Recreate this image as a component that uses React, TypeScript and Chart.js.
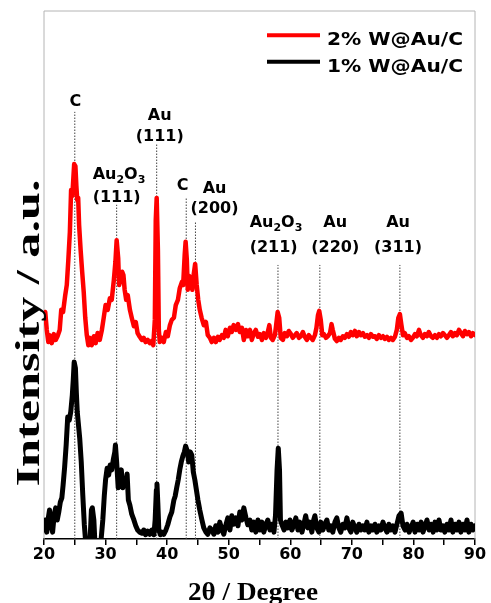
import { useEffect, useRef } from 'react';
import { Chart, registerables } from 'chart.js';

Chart.register(...registerables);

// ---- data (2θ in degrees, intensity in arbitrary units, offset as plotted) ----
const redTheta = [
  20.0, 20.2, 20.45, 20.7, 20.9, 21.25, 21.6, 21.9, 22.2, 22.55,
  22.8, 23.1, 23.45, 23.7, 23.95, 24.2, 24.4, 24.6, 24.75, 24.9,
  25.1, 25.25, 25.4, 25.55, 25.7, 25.95, 26.2, 26.45, 26.7, 26.95,
  27.2, 27.45, 27.75, 28.1, 28.4, 28.7, 29.05, 29.4, 29.7, 30.0,
  30.35, 30.7, 31.0, 31.35, 31.6, 31.8, 32.05, 32.2, 32.45, 32.7,
  32.9, 33.1, 33.35, 33.6, 33.95, 34.25, 34.6, 34.9, 35.2, 35.55,
  35.9, 36.2, 36.5, 36.85, 37.2, 37.5, 37.75, 38.0, 38.15, 38.3,
  38.5, 38.65, 38.8, 39.15, 39.45, 39.8, 40.1, 40.45, 40.75, 41.1,
  41.4, 41.75, 42.05, 42.4, 42.6, 42.85, 43.0, 43.2, 43.35, 43.6,
  43.85, 44.1, 44.3, 44.55, 44.8, 45.05, 45.3, 45.6, 45.95, 46.3,
  46.6, 46.95, 47.25, 47.6, 47.9, 48.25, 48.55, 48.9, 49.2, 49.5,
  49.85, 50.2, 50.5, 50.8, 51.15, 51.5, 51.8, 52.15, 52.45, 52.8,
  53.1, 53.45, 53.75, 54.1, 54.4, 54.75, 55.05, 55.4, 55.7, 56.05,
  56.35, 56.6, 56.85, 57.15, 57.5, 57.7, 57.95, 58.2, 58.45, 58.8,
  59.1, 59.45, 59.75, 60.1, 60.4, 60.75, 61.05, 61.4, 61.7, 62.05,
  62.35, 62.7, 63.0, 63.35, 63.65, 64.0, 64.25, 64.5, 64.7, 64.95,
  65.2, 65.45, 65.8, 66.1, 66.45, 66.7, 66.9, 67.25, 67.55, 67.9,
  68.2, 68.55, 68.85, 69.2, 69.5, 69.85, 70.15, 70.5, 70.8, 71.15,
  71.45, 71.8, 72.1, 72.45, 72.75, 73.1, 73.4, 73.75, 74.05, 74.4,
  74.7, 75.05, 75.35, 75.7, 76.0, 76.35, 76.65, 77.0, 77.3, 77.55,
  77.8, 78.05, 78.3, 78.6, 78.95, 79.25, 79.6, 79.9, 80.25, 80.55,
  80.9, 81.2, 81.55, 81.85, 82.2, 82.5, 82.85, 83.15, 83.5, 83.8,
  84.15, 84.45, 84.8, 85.1, 85.45, 85.75, 86.1, 86.4, 86.75, 87.05,
  87.4, 87.7, 88.05, 88.35, 88.7, 89.0, 89.35, 89.65, 90.0,
];

const redIntensity = [
  41.9, 43.0, 39.6, 37.3, 38.6, 37.1, 38.8, 37.7, 38.4, 39.6,
  43.4, 43.0, 46.2, 48.1, 52.8, 58.1, 66.1, 65.0, 68.0, 71.0,
  70.6, 67.0, 64.2, 64.6, 59.5, 54.7, 50.6, 46.8, 41.9, 38.6,
  36.7, 38.1, 36.7, 38.4, 37.1, 39.0, 37.7, 39.6, 41.9, 44.3,
  43.4, 45.6, 45.3, 49.1, 52.5, 56.6, 53.2, 48.1, 49.1, 50.6,
  50.0, 47.2, 45.3, 46.2, 43.4, 41.9, 40.3, 41.1, 39.0, 38.3,
  37.7, 38.1, 37.3, 37.7, 37.1, 37.5, 36.7, 41.5, 60.4, 64.6,
  54.7, 39.6, 37.3, 38.1, 37.3, 39.2, 38.4, 40.5, 41.5, 41.9,
  44.3, 45.3, 47.5, 48.7, 48.1, 53.8, 56.3, 52.8, 47.2, 49.8,
  49.1, 47.2, 50.0, 52.1, 48.1, 45.3, 43.4, 41.9, 40.5, 41.1,
  38.6, 38.1, 37.3, 38.1, 37.3, 38.3, 37.7, 38.6, 38.1, 39.6,
  38.4, 40.0, 39.2, 40.5, 39.6, 40.7, 39.2, 40.0, 37.7, 39.6,
  38.4, 39.6, 37.7, 39.0, 39.6, 38.3, 38.8, 37.7, 39.0, 38.1,
  39.2, 40.5, 38.1, 37.7, 38.6, 40.5, 43.0, 41.9, 38.1, 37.7,
  39.0, 38.4, 39.4, 38.8, 38.1, 38.6, 39.0, 38.1, 38.4, 39.2,
  38.3, 37.7, 38.6, 38.1, 37.7, 38.6, 40.0, 42.4, 43.2, 41.5,
  38.6, 38.8, 38.1, 38.4, 39.0, 40.7, 39.6, 37.9, 37.5, 38.1,
  37.7, 38.4, 38.1, 38.8, 38.3, 39.2, 38.6, 39.4, 38.4, 39.2,
  38.6, 39.0, 38.3, 38.6, 38.1, 38.8, 38.3, 38.4, 37.9, 38.6,
  38.1, 38.4, 37.9, 38.3, 37.7, 38.1, 37.7, 38.3, 39.6, 41.9,
  42.6, 40.5, 38.6, 39.0, 38.1, 38.4, 37.7, 38.1, 38.8, 38.4,
  39.6, 38.6, 38.1, 38.8, 38.4, 39.2, 38.4, 38.1, 38.6, 38.1,
  38.8, 38.4, 39.0, 38.6, 38.1, 38.6, 39.2, 38.4, 39.0, 38.6,
  39.6, 39.0, 38.4, 39.4, 38.8, 39.2, 38.4, 39.0, 38.6,
];

const blackTheta = [
  20.0, 20.2, 20.45, 20.7, 20.9, 21.15, 21.4, 21.65, 21.9, 22.15,
  22.4, 22.65, 22.9, 23.1, 23.35, 23.6, 23.85, 24.1, 24.35, 24.6,
  24.75, 24.9, 25.1, 25.25, 25.4, 25.55, 25.8, 26.05, 26.3, 26.55,
  26.8, 27.1, 27.45, 27.7, 27.85, 28.1, 28.25, 28.5, 28.9, 29.2,
  29.55, 29.8, 30.0, 30.25, 30.5, 30.75, 31.0, 31.25, 31.5, 31.6,
  31.8, 32.05, 32.3, 32.55, 32.8, 33.05, 33.3, 33.5, 33.7, 33.95,
  34.25, 34.6, 34.9, 35.2, 35.55, 35.9, 36.2, 36.5, 36.85, 37.2,
  37.5, 37.85, 38.05, 38.25, 38.35, 38.5, 38.65, 38.9, 39.15, 39.45,
  39.8, 40.1, 40.45, 40.75, 41.1, 41.3, 41.55, 41.8, 42.05, 42.3,
  42.55, 42.8, 43.0, 43.3, 43.5, 43.75, 44.0, 44.25, 44.5, 44.75,
  45.0, 45.3, 45.65, 45.95, 46.3, 46.6, 46.95, 47.25, 47.6, 47.9,
  48.25, 48.55, 48.9, 49.2, 49.5, 49.85, 50.2, 50.5, 50.8, 51.15,
  51.5, 51.8, 52.15, 52.45, 52.8, 53.1, 53.45, 53.75, 54.1, 54.4,
  54.75, 55.05, 55.4, 55.7, 56.05, 56.35, 56.7, 57.0, 57.35, 57.6,
  57.85, 58.05, 58.25, 58.4, 58.65, 59.0, 59.3, 59.6, 59.95, 60.25,
  60.6, 60.9, 61.25, 61.55, 61.9, 62.2, 62.5, 62.85, 63.15, 63.5,
  63.8, 64.0, 64.3, 64.65, 64.95, 65.3, 65.6, 65.95, 66.25, 66.6,
  66.9, 67.25, 67.55, 67.9, 68.2, 68.55, 68.85, 69.2, 69.5, 69.85,
  70.15, 70.5, 70.8, 71.15, 71.45, 71.8, 72.1, 72.45, 72.75, 73.1,
  73.4, 73.75, 74.05, 74.4, 74.7, 75.05, 75.35, 75.7, 76.0, 76.35,
  76.65, 77.0, 77.3, 77.65, 78.0, 78.3, 78.65, 78.95, 79.3, 79.6,
  79.95, 80.25, 80.6, 80.9, 81.25, 81.55, 81.9, 82.2, 82.55, 82.85,
  83.2, 83.5, 83.8, 84.15, 84.45, 84.8, 85.1, 85.45, 85.75, 86.1,
  86.4, 86.75, 87.05, 87.4, 87.7, 88.05, 88.35, 88.7, 89.0, 89.35,
  89.65, 90.0,
];

const blackIntensity = [
  1.7, 3.6, 1.3, 4.0, 5.5, 2.7, 1.3, 4.5, 5.9, 3.6,
  5.1, 7.0, 7.8, 10.2, 13.6, 17.8, 23.1, 22.5, 24.1, 27.3,
  30.1, 33.5, 32.4, 27.8, 24.1, 22.2, 19.1, 14.6, 8.3, 2.7,
  -1.1, -1.7, -1.1, 5.5, 5.9, 3.6, -0.2, -1.7, -1.7, -1.1,
  3.6, 8.3, 11.2, 13.4, 12.1, 14.0, 13.1, 15.0, 16.5, 17.8,
  14.6, 9.7, 11.6, 13.1, 9.7, 11.2, 10.2, 12.3, 7.4, 6.4,
  4.7, 3.6, 2.5, 1.7, 1.3, 1.1, 1.7, 0.8, 1.5, 0.9,
  1.7, 0.8, 3.6, 9.3, 10.4, 6.4, 1.7, 0.8, 1.3, 0.9,
  1.7, 2.7, 4.2, 5.1, 7.4, 8.1, 9.7, 11.2, 13.1, 14.6,
  15.7, 16.5, 17.6, 16.5, 14.6, 16.5, 15.9, 12.7, 11.2, 9.3,
  7.4, 5.5, 3.6, 2.1, 1.3, 0.9, 2.1, 1.7, 0.9, 2.5,
  1.3, 3.2, 1.7, 0.9, 2.5, 4.0, 1.7, 4.4, 2.8, 4.0,
  2.5, 5.1, 3.6, 5.9, 4.0, 2.7, 3.6, 1.7, 3.2, 1.3,
  3.6, 1.7, 3.2, 1.3, 2.7, 3.6, 1.7, 2.8, 1.3, 4.5,
  13.1, 17.2, 13.1, 3.6, 2.7, 1.7, 3.2, 2.1, 3.6, 1.7,
  2.7, 4.0, 1.7, 3.2, 1.3, 2.8, 4.4, 2.1, 3.2, 1.3,
  3.6, 4.4, 2.1, 1.3, 3.2, 1.7, 2.8, 3.6, 1.7, 2.5,
  1.3, 3.2, 4.0, 2.1, 1.3, 2.8, 2.1, 4.0, 2.1, 1.3,
  3.2, 2.1, 1.3, 2.8, 1.7, 2.5, 1.7, 3.2, 1.3, 2.5,
  1.7, 2.8, 1.3, 2.5, 1.7, 3.2, 2.1, 1.3, 2.8, 1.7,
  2.5, 1.3, 2.7, 4.4, 4.9, 2.5, 1.7, 2.8, 1.3, 2.1,
  3.2, 1.3, 2.8, 1.7, 3.2, 1.3, 2.5, 3.6, 1.7, 2.8,
  1.3, 3.2, 1.7, 3.6, 1.7, 2.5, 1.3, 2.8, 1.7, 3.6,
  1.3, 2.8, 1.7, 3.2, 1.3, 2.8, 1.7, 3.6, 1.3, 2.8,
  1.7, 2.5,
];

const seriesLabels = ['2% W@Au/C', '1% W@Au/C'];
const seriesColors = ['#ff0000', '#000000'];

const xMin = 20;
const xMax = 90;
const xTickStep = 5;
const xLabelStep = 10;

// reference peak positions (2θ) and top of their dotted marker lines
const peakTheta = [25.0, 31.8, 38.3, 43.1, 44.6, 58.0, 64.8, 77.8];
const peakLineTop = [80.9, 63.3, 75.0, 64.6, 60.0, 51.9, 51.9, 51.9];

// peak annotations: text lines ("_x" = subscript), anchor 2θ, baselines in intensity units
const peakLabels = [
  { lines: ['C'], x: 25.1, y: [82.0], align: 'center' },
  { lines: ['Au_2O_3', '(111)'], x: 27.9, y: [68.2, 63.9], align: 'left' },
  { lines: ['Au', '(111)'], x: 38.8, y: [79.4, 75.4], align: 'center' },
  { lines: ['C'], x: 42.5, y: [66.1], align: 'center' },
  { lines: ['Au', '(200)'], x: 47.7, y: [65.5, 61.7], align: 'center' },
  { lines: ['Au_2O_3', '(211)'], x: 53.4, y: [59.1, 54.4], align: 'left' },
  { lines: ['Au', '(220)'], x: 67.3, y: [59.1, 54.4], align: 'center' },
  { lines: ['Au', '(311)'], x: 77.5, y: [59.1, 54.4], align: 'center' },
];

const yTitle = 'Intensity / a.u.';
const xTitle = '2θ / Degree';

function drawRich(ctx: CanvasRenderingContext2D, text: string, x: number, y: number, align: string) {
  const segs: { t: string; sub: boolean }[] = [];
  for (let i = 0; i < text.length; i++) {
    if (text[i] === '_') {
      segs.push({ t: text[i + 1], sub: true });
      i++;
    } else if (segs.length && !segs[segs.length - 1].sub) {
      segs[segs.length - 1].t += text[i];
    } else {
      segs.push({ t: text[i], sub: false });
    }
  }
  const mainFont = 'bold 16px "DejaVu Sans"';
  const subFont = 'bold 11px "DejaVu Sans"';
  let total = 0;
  for (const s of segs) {
    ctx.font = s.sub ? subFont : mainFont;
    total += ctx.measureText(s.t).width;
  }
  let cx = align === 'center' ? x - total / 2 : x;
  ctx.textAlign = 'left';
  ctx.textBaseline = 'alphabetic';
  for (const s of segs) {
    ctx.font = s.sub ? subFont : mainFont;
    ctx.fillText(s.t, cx, s.sub ? y + 4 : y);
    cx += ctx.measureText(s.t).width;
  }
}

function drawStretched(
  ctx: CanvasRenderingContext2D,
  text: string,
  font: string,
  x: number,
  y: number,
  width: number,
  align: 'left' | 'center',
  rotate = 0,
) {
  ctx.save();
  ctx.font = font;
  const w = ctx.measureText(text).width;
  const s = width / w;
  ctx.translate(x, y);
  if (rotate) ctx.rotate(rotate);
  ctx.scale(s, 1);
  ctx.textAlign = align;
  ctx.textBaseline = 'alphabetic';
  ctx.fillText(text, 0, 0);
  ctx.restore();
}

const decorPlugin = {
  id: 'decor',
  beforeDatasetsDraw(chart: any) {
    const { ctx, chartArea: a } = chart;
    ctx.save();
    ctx.strokeStyle = '#b4b4b4';
    ctx.lineWidth = 1;
    ctx.beginPath();
    ctx.moveTo(a.left, a.bottom);
    ctx.lineTo(a.left, a.top);
    ctx.lineTo(a.right, a.top);
    ctx.lineTo(a.right, a.bottom);
    ctx.stroke();
    ctx.restore();
  },
  afterDatasetsDraw(chart: any) {
    const { ctx, chartArea: a, scales } = chart;
    const xs = scales.x;
    const ys = scales.y;
    ctx.save();
    ctx.fillStyle = '#000';
    // peak labels
    for (const lab of peakLabels) {
      const px = xs.getPixelForValue(lab.x);
      lab.lines.forEach((ln, i) => {
        drawRich(ctx, ln, px, ys.getPixelForValue(lab.y[i]), lab.align);
      });
    }
    // legend
    seriesLabels.forEach((label, i) => {
      const ly = a.top + 24.3 + i * 26.5;
      ctx.strokeStyle = seriesColors[i];
      ctx.lineWidth = 4;
      ctx.beginPath();
      ctx.moveTo(a.right - 208, ly);
      ctx.lineTo(a.right - 155, ly);
      ctx.stroke();
      ctx.fillStyle = '#000';
      drawStretched(ctx, label, 'bold 18px "DejaVu Sans"', a.right - 148, ly + 9.8, 136, 'left');
    });
    // axis titles
    drawStretched(ctx, yTitle, 'bold 33px "Liberation Serif"', 39, 333, 307, 'center', -Math.PI / 2);
    drawStretched(ctx, xTitle, 'bold 26px "Liberation Serif"', 253, 600, 130, 'center');
    ctx.restore();
  },
};

export default function App() {
  const canvasRef = useRef<HTMLCanvasElement | null>(null);

  useEffect(() => {
    const canvas = canvasRef.current;
    if (!canvas) return;
    const datasets: any[] = [
      {
        label: seriesLabels[0],
        data: redTheta.map((x, i) => ({ x, y: redIntensity[i] })),
        borderColor: seriesColors[0],
        borderWidth: 4.5,
        borderJoinStyle: 'round',
        borderCapStyle: 'round',
        pointRadius: 0,
        tension: 0,
        order: 0,
      },
      {
        label: seriesLabels[1],
        data: blackTheta.map((x, i) => ({ x, y: blackIntensity[i] })),
        borderColor: seriesColors[1],
        borderWidth: 5,
        borderJoinStyle: 'round',
        borderCapStyle: 'round',
        pointRadius: 0,
        tension: 0,
        order: 0,
      },
      ...peakTheta.map((t, i) => ({
        label: '',
        data: [
          { x: t, y: 0 },
          { x: t, y: peakLineTop[i] },
        ],
        borderColor: '#444444',
        borderWidth: 1,
        borderDash: [1.5, 1.5],
        pointRadius: 0,
        order: 1,
      })),
    ];

    const chart = new Chart(canvas, {
      type: 'line',
      data: { datasets },
      options: {
        responsive: false,
        animation: false,
        devicePixelRatio: 1,
        layout: { padding: { left: 44, right: 16, top: 11, bottom: 0 } },
        plugins: { legend: { display: false }, tooltip: { enabled: false } },
        scales: {
          x: {
            type: 'linear',
            min: xMin,
            max: xMax,
            afterFit(s: any) {
              s.height = 64;
            },
            ticks: {
              stepSize: xTickStep,
              autoSkip: false,
              maxRotation: 0,
              padding: 0,
              color: '#000',
              font: { family: '"DejaVu Sans"', weight: 'bold', size: 16 },
              callback: (v: any) => (Number(v) % xLabelStep === 0 ? String(v) : ''),
            },
            grid: { drawOnChartArea: false, drawTicks: true, tickLength: 6, color: '#000', lineWidth: 1.5 },
            border: { display: true, color: '#000', width: 1.5 },
          },
          y: { display: false, min: 0, max: 100 },
        },
      } as any,
      plugins: [decorPlugin],
    });
    return () => chart.destroy();
  }, []);

  return (
    <div style={{ position: 'fixed', left: 0, top: 0, width: 491, height: 603, background: '#fff' }}>
      <canvas ref={canvasRef} width={491} height={603} style={{ display: 'block' }} />
    </div>
  );
}
